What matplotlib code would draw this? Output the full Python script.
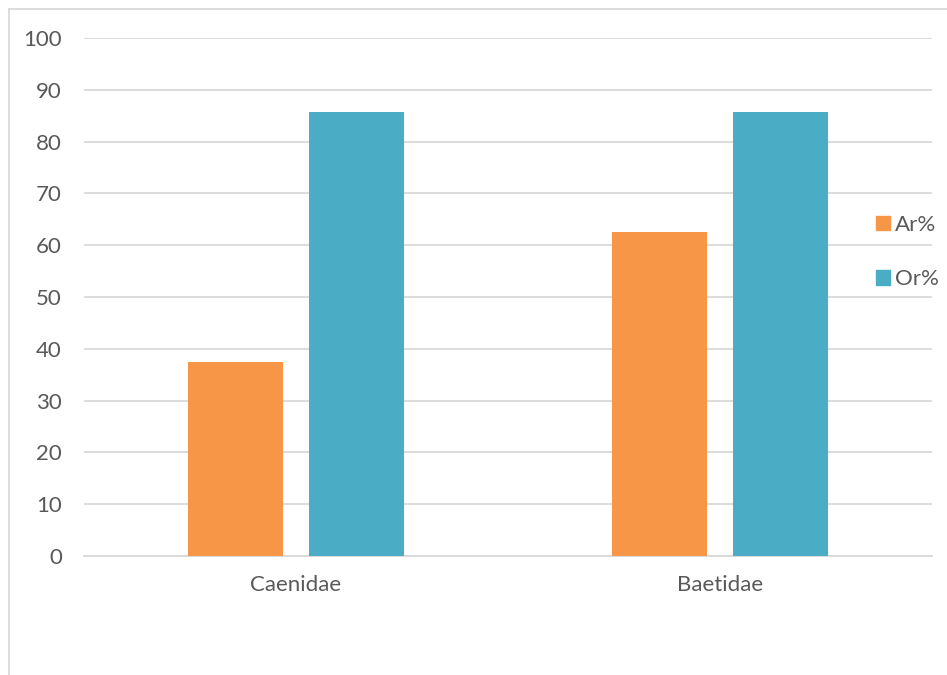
import numpy as np
import matplotlib.pyplot as plt
from matplotlib.lines import Line2D
from matplotlib.patches import Patch

# dados
familias = ['Caenidae', 'Baetidae']
ar_pct = [37.5, 62.5]
or_pct = [85.7, 85.7]
yticks = list(range(0, 101, 10))

cor_ar = '#F79646'
cor_or = '#4BACC6'
cor_texto = '#595959'
cor_grade = '#D9D9D9'

plt.rcParams['font.family'] = ['Lato', 'DejaVu Sans']

W, H = 947, 675
fig = plt.figure(figsize=(W / 100, H / 100), dpi=100)
ax = fig.add_axes([84 / W, 1 - 556 / H, (932 - 84) / W, (556 - 38) / H])

x = np.arange(len(familias))
larg = 0.224
desl = 0.1427
ax.bar(x - desl, ar_pct, larg, color=cor_ar, label='Ar%', zorder=3)
ax.bar(x + desl, or_pct, larg, color=cor_or, label='Or%', zorder=3)

ax.set_xlim(-0.5, len(familias) - 0.5)
ax.set_ylim(0, 100)
ax.set_yticks(yticks)
ax.set_xticks(x)
ax.set_xticklabels(familias)
ax.yaxis.grid(True, color=cor_grade, linewidth=1.3, zorder=0)
ax.set_axisbelow(True)
for s in ['top', 'right', 'left']:
    ax.spines[s].set_visible(False)
ax.spines['bottom'].set_color(cor_grade)
ax.spines['bottom'].set_linewidth(1.3)
ax.tick_params(axis='both', length=0, colors=cor_texto, labelsize=16)
ax.tick_params(axis='y', pad=16)
ax.tick_params(axis='x', pad=14)

# legenda à direita
handles = [Patch(color=cor_ar), Patch(color=cor_or)]
fig.legend(handles, ['Ar%', 'Or%'], loc='center left',
           bbox_to_anchor=(856 / W, 1 - 252 / H), frameon=False,
           fontsize=16, labelcolor=cor_texto, handlelength=0.62,
           handleheight=0.62, handletextpad=0.25, labelspacing=1.55)

# moldura do gráfico
fig.add_artist(Line2D([8.5 / W, 8.5 / W], [0, 1 - 8.5 / H],
                      transform=fig.transFigure, color=cor_grade, lw=1.3))
fig.add_artist(Line2D([8.5 / W, 1], [1 - 8.5 / H, 1 - 8.5 / H],
                      transform=fig.transFigure, color=cor_grade, lw=1.3))

fig.savefig('out.png', dpi=100)
